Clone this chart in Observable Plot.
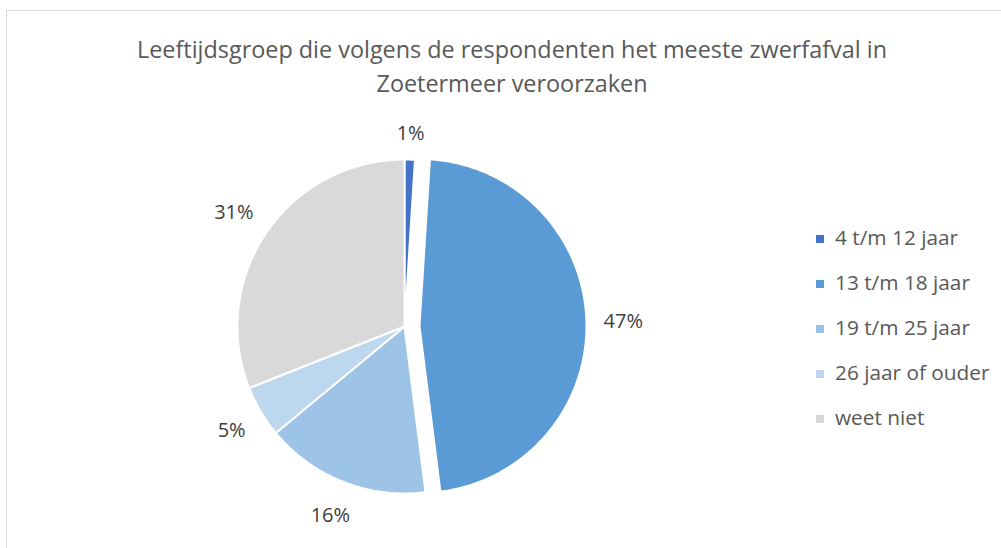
<!DOCTYPE html>
<html>
<head>
<meta charset="utf-8">
<script src="https://cdn.jsdelivr.net/npm/d3@7"></script>
<script src="https://cdn.jsdelivr.net/npm/@observablehq/plot@0.6"></script>
<style>
  html, body { margin: 0; padding: 0; background: #fff; }
  #wrap { position: relative; width: 1001px; height: 548px; overflow: hidden; font-family: "Open Sans", Lato, sans-serif; }
  #frame { position: absolute; left: 6px; top: 10px; width: 1100px; height: 700px; border: 1.5px solid #d9d9d9; box-sizing: border-box; }
  #title { position: absolute; left: 512px; top: 32px; transform: translateX(-50%); text-align: center; color: #595959; font-size: 23.4px; line-height: 34px; white-space: nowrap; }
  #legend { position: absolute; left: 816px; top: 224px; color: #595959; font-size: 20.8px; }
  .item { height: 45px; display: flex; align-items: flex-start; line-height: 26px; }
  .sw { width: 8px; height: 8px; margin-top: 11px; margin-right: 11px; flex: none; }
  #chart { position: absolute; left: 0; top: 0; }
</style>
</head>
<body>
<div id="wrap">
  <div id="frame"></div>
  <div id="chart"></div>
  <div id="title">Leeftijdsgroep die volgens de respondenten het meeste zwerfafval in<br>Zoetermeer veroorzaken</div>
  <div id="legend"></div>
</div>
<script>
const categories = ["4 t/m 12 jaar", "13 t/m 18 jaar", "19 t/m 25 jaar", "26 jaar of ouder", "weet niet"];
const values = [1, 47, 16, 5, 31];
const valueLabels = ["1%", "47%", "16%", "5%", "31%"];
const colors = ["#4472c4", "#5b9bd5", "#9dc3e6", "#bdd7ee", "#d9d9d9"];
const exploded = [false, true, false, false, false];

// layout (pixels)
const cx = 404, cy = 326, R = 167;
const explodePx = 15, labelGap = 17, labelFont = 20;

const total = d3.sum(values);
const slicePts = [];
const labelData = [];
let acc = 0;
values.forEach((v, i) => {
  const a0 = acc / total * 2 * Math.PI;
  acc += v;
  const a1 = acc / total * 2 * Math.PI;
  const am = (a0 + a1) / 2;
  const off = exploded[i] ? explodePx / R : 0;
  const ox = off * Math.sin(am), oy = -off * Math.cos(am);
  slicePts.push({cat: categories[i], x: ox, y: oy});
  const n = Math.max(2, Math.ceil((a1 - a0) / (Math.PI / 360)));
  for (let k = 0; k <= n; k++) {
    const a = a0 + (a1 - a0) * k / n;
    slicePts.push({cat: categories[i], x: ox + Math.sin(a), y: oy - Math.cos(a)});
  }
  const dx = Math.sin(am), dy = -Math.cos(am);
  const w = valueLabels[i].length * labelFont * 0.65, h = 22;
  const dist = (R + labelGap + Math.abs(dx) * w / 2 + Math.abs(dy) * h / 2) / R;
  labelData.push({text: valueLabels[i], x: ox + dx * dist, y: oy + dy * dist});
});

const plot = Plot.plot({
  width: 1001,
  height: 548,
  margin: 0,
  x: {domain: [-1, 1], range: [cx - R, cx + R], axis: null},
  y: {domain: [-1, 1], range: [cy - R, cy + R], axis: null},
  color: {domain: categories, range: colors},
  style: {background: "transparent", fontFamily: "'Open Sans', Lato, sans-serif"},
  marks: [
    Plot.line(slicePts, {x: "x", y: "y", z: "cat", fill: "cat", stroke: "white", strokeWidth: 2, strokeLinejoin: "round", curve: "linear-closed"}),
    Plot.text(labelData, {x: "x", y: "y", text: "text", fontSize: labelFont, fill: "#404040", dy: 2})
  ]
});
document.getElementById("chart").appendChild(plot);

const legend = document.getElementById("legend");
categories.forEach((c, i) => {
  const item = document.createElement("div");
  item.className = "item";
  const sw = document.createElement("span");
  sw.className = "sw";
  sw.style.background = colors[i];
  const t = document.createElement("span");
  t.textContent = c;
  item.appendChild(sw);
  item.appendChild(t);
  legend.appendChild(item);
});
</script>
</body>
</html>
